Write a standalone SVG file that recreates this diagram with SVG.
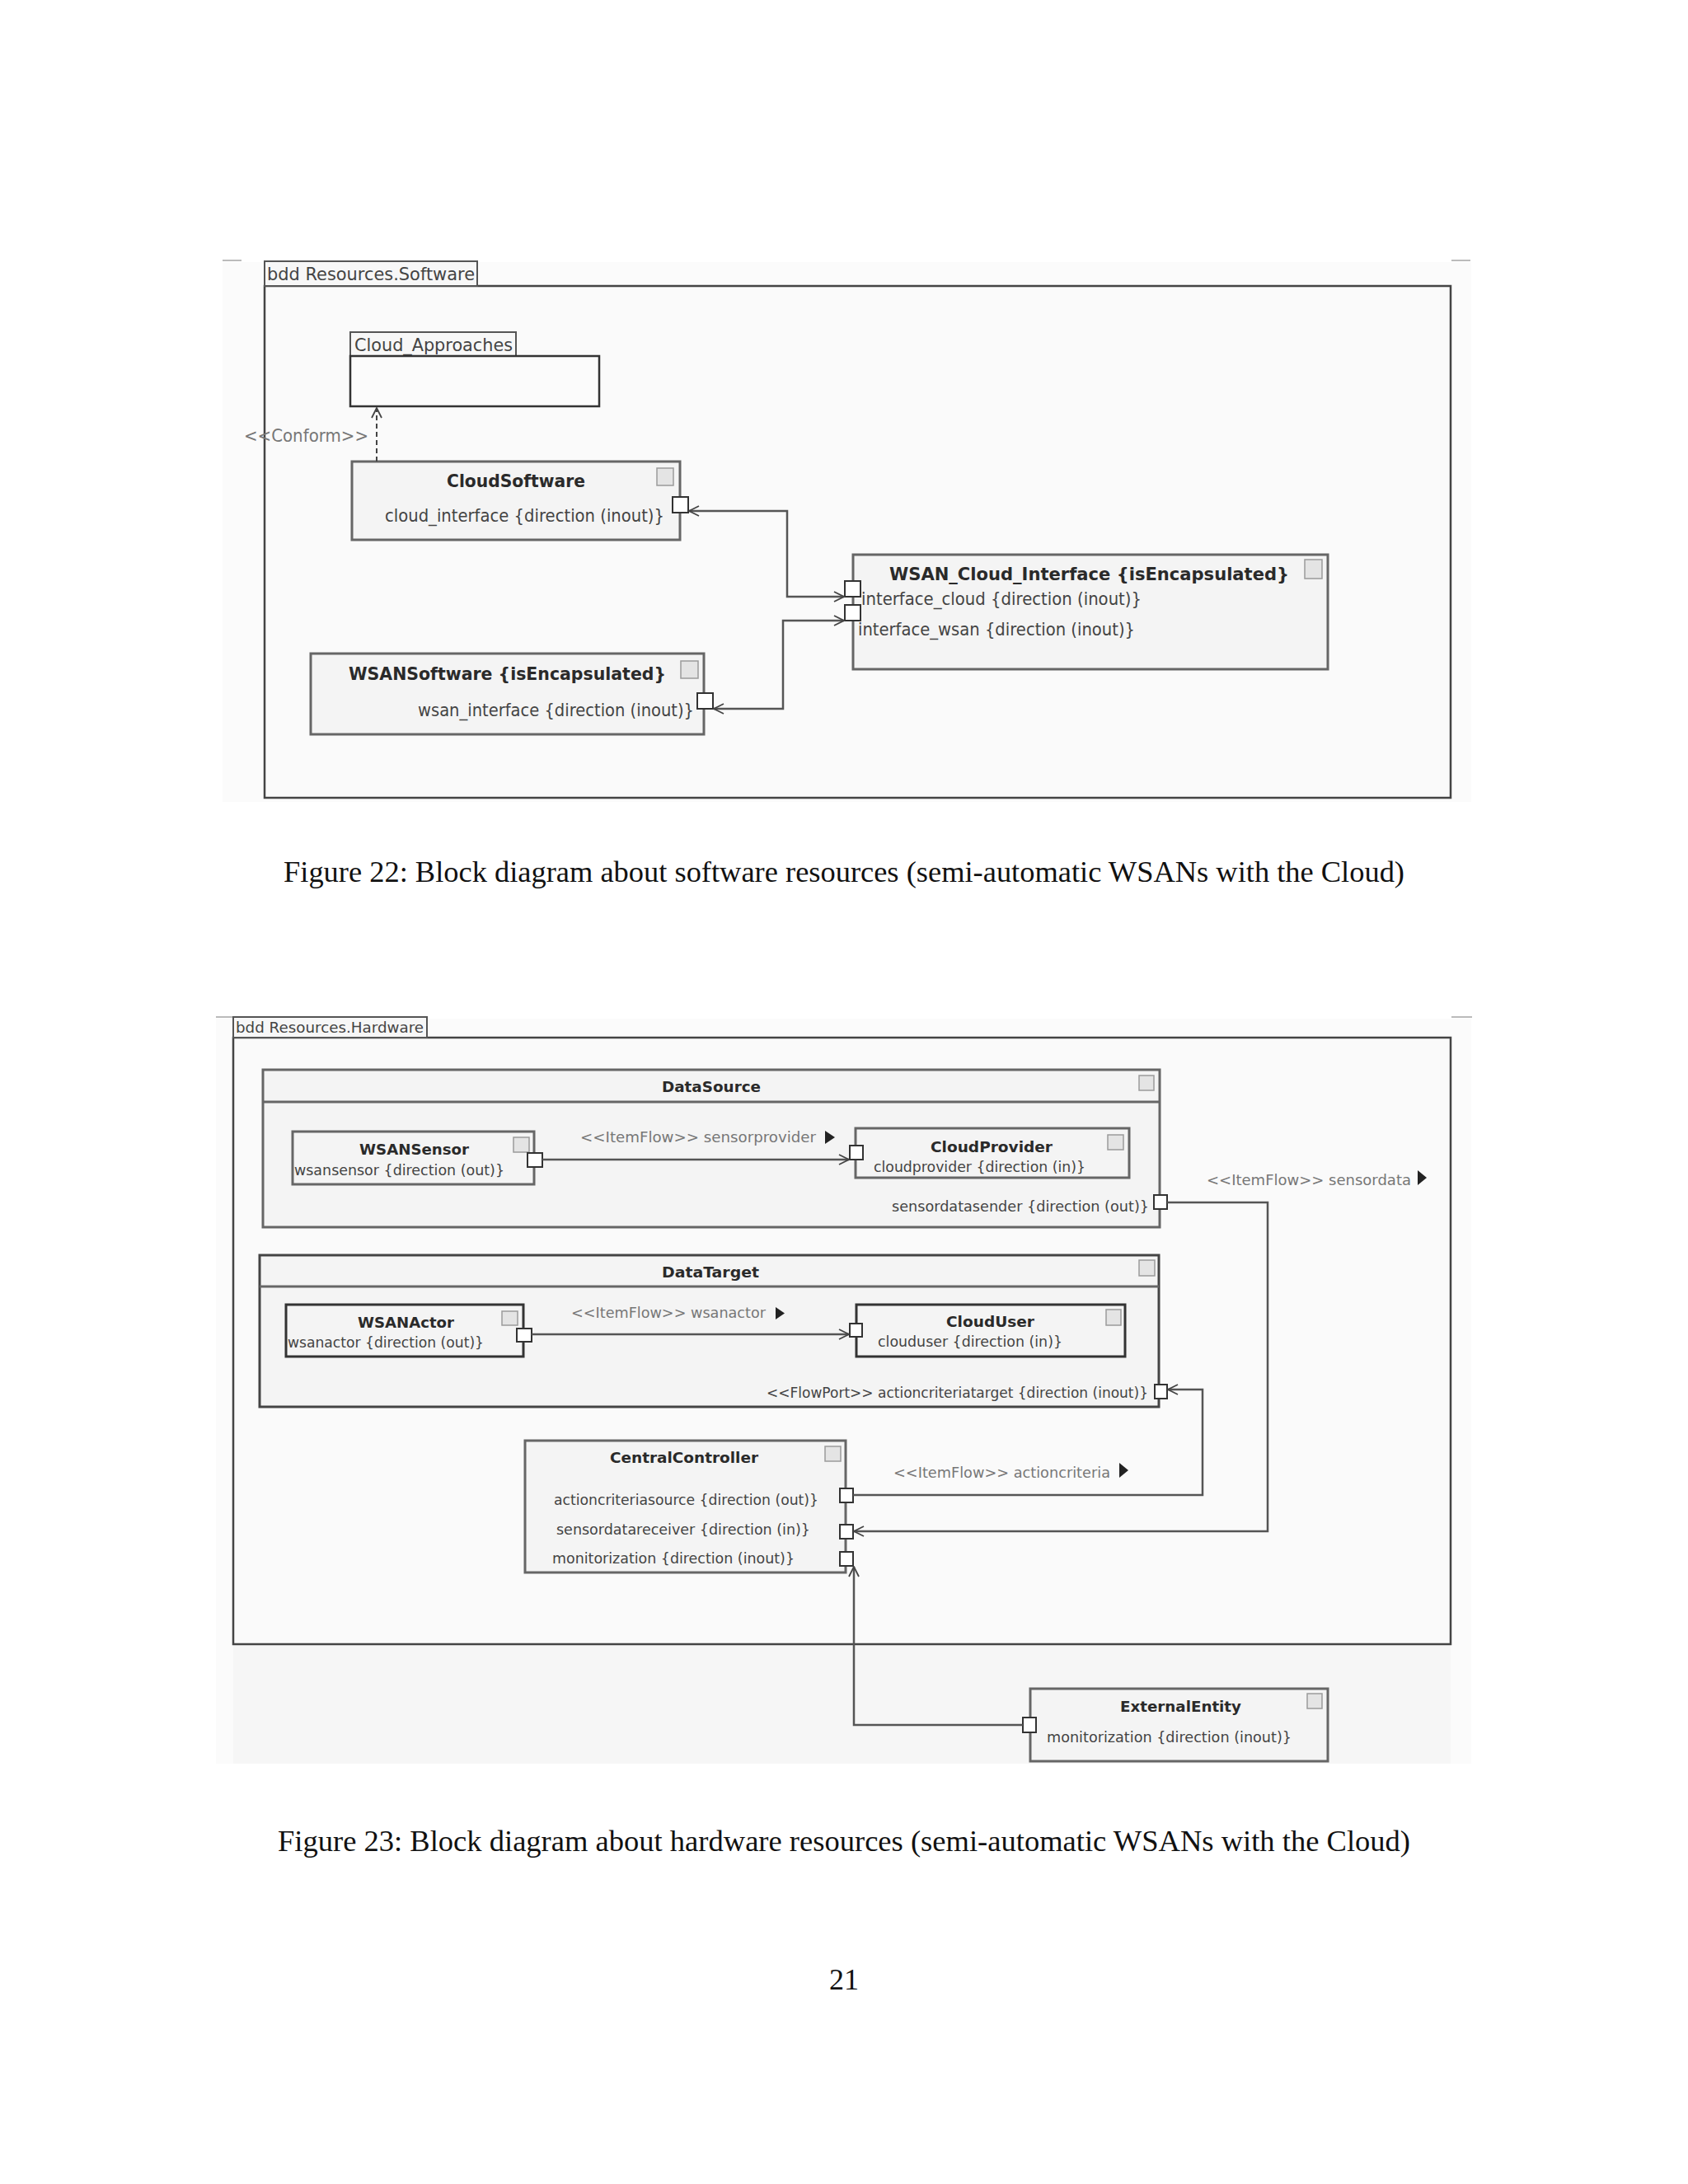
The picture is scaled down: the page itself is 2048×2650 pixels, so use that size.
<svg xmlns="http://www.w3.org/2000/svg" width="2048" height="2650" viewBox="0 0 2048 2650">
<style>
.bg{fill:#fbfbfb}
.frame{fill:#fafafa;stroke:#444;stroke-width:2.5}
.tab{fill:#f7f7f7;stroke:#555;stroke-width:2}
.box{fill:#f4f4f4;stroke:#666;stroke-width:3}
.hdr{stroke:#666;stroke-width:3}
.icon{fill:#e4e4e4;stroke:#9a9a9a;stroke-width:1.5}
.port{fill:#fff;stroke:#333;stroke-width:2}
.conn{fill:none;stroke:#555;stroke-width:2.5}
.dash{fill:none;stroke:#444;stroke-width:2;stroke-dasharray:6 4}
.tick{stroke:#bbb;stroke-width:2}
.t{font-family:"DejaVu Sans","Liberation Sans",sans-serif;fill:#444}
.t20{font-size:20.5px}
.t17{font-size:18px}
.b{font-weight:bold;fill:#2a2a2a}
.g{fill:#777}
.tri{fill:#222}
.cap{font-family:"Liberation Serif","DejaVu Serif",serif;font-size:36px;fill:#111}
</style>
<defs>
<marker id="open" viewBox="0 0 14 14" refX="13" refY="7" markerWidth="14" markerHeight="14" markerUnits="userSpaceOnUse" orient="auto-start-reverse">
<path d="M1,1 L13,7 L1,13" fill="none" stroke="#444" stroke-width="1.8"/>
</marker>
</defs>
<rect width="2048" height="2650" fill="#ffffff"/>

<!-- ===== Figure 22 ===== -->
<rect class="bg" x="270" y="318" width="1515" height="655"/>
<line class="tick" x1="270" y1="316" x2="293" y2="316"/>
<line class="tick" x1="1761" y1="316" x2="1784" y2="316"/>
<g id="frame-software">
<rect class="frame" x="321" y="347" width="1439" height="621"/>
<rect class="tab" x="321" y="317" width="258" height="30"/>
<text class="t t20" x="324" y="340" textLength="252" lengthAdjust="spacingAndGlyphs">bdd Resources.Software</text>
</g>

<g id="Cloud_Approaches">
<rect class="tab" x="425" y="403" width="201" height="29"/>
<text class="t t20" x="430" y="426" textLength="192" lengthAdjust="spacingAndGlyphs">Cloud_Approaches</text>
<rect x="425" y="432" width="302" height="61" fill="#fbfbfb" stroke="#333" stroke-width="2.5"/>
</g>

<g id="CloudSoftware">
<rect class="box" x="427" y="560" width="398" height="95"/>
<text class="t t20 b" x="626" y="591" text-anchor="middle" textLength="168" lengthAdjust="spacingAndGlyphs">CloudSoftware</text>
<rect class="icon" x="797" y="568" width="20" height="21"/>
<text class="t t20" x="467" y="633" textLength="339" lengthAdjust="spacingAndGlyphs">cloud_interface {direction (inout)}</text>
<rect class="port" x="816" y="603" width="19" height="19"/>
</g>

<g id="WSAN_Cloud_Interface">
<rect class="box" x="1035" y="673" width="576" height="139"/>
<text class="t t20 b" x="1079" y="704" textLength="485" lengthAdjust="spacingAndGlyphs">WSAN_Cloud_Interface {isEncapsulated}</text>
<rect class="icon" x="1583" y="679" width="21" height="23"/>
<text class="t t20" x="1045" y="734" textLength="340" lengthAdjust="spacingAndGlyphs">interface_cloud {direction (inout)}</text>
<text class="t t20" x="1041" y="771" textLength="336" lengthAdjust="spacingAndGlyphs">interface_wsan {direction (inout)}</text>
<rect class="port" x="1025" y="705" width="19" height="19"/>
<rect class="port" x="1025" y="734" width="19" height="19"/>
</g>

<g id="WSANSoftware">
<rect class="box" x="377" y="793" width="477" height="98"/>
<text class="t t20 b" x="423" y="825" textLength="385" lengthAdjust="spacingAndGlyphs">WSANSoftware {isEncapsulated}</text>
<rect class="icon" x="826" y="802" width="21" height="21"/>
<text class="t t20" x="507" y="869" textLength="335" lengthAdjust="spacingAndGlyphs">wsan_interface {direction (inout)}</text>
<rect class="port" x="846" y="841" width="19" height="19"/>
</g>

<g id="connectors-software">
<path class="dash" d="M457,560 V495" marker-end="url(#open)"/>
<text class="t t20 g" x="296" y="536" textLength="151" lengthAdjust="spacingAndGlyphs">&lt;&lt;Conform&gt;&gt;</text>
<path class="conn" d="M836,620 H955 V724 H1024" marker-start="url(#open)" marker-end="url(#open)"/>
<path class="conn" d="M866,860 H950 V753 H1024" marker-start="url(#open)" marker-end="url(#open)"/>
</g>

<text class="cap" x="344" y="1070" textLength="1360" lengthAdjust="spacingAndGlyphs">Figure 22: Block diagram about software resources (semi-automatic WSANs with the Cloud)</text>

<!-- ===== Figure 23 ===== -->
<rect class="bg" x="262" y="1236" width="1523" height="904" fill="#f8f8f8"/>
<rect x="283" y="1996" width="1477" height="144" fill="#f6f6f6"/>
<line class="tick" x1="262" y1="1234" x2="283" y2="1234"/>
<line class="tick" x1="1761" y1="1234" x2="1786" y2="1234"/>
<g id="frame-hardware">
<rect class="frame" x="283" y="1259" width="1477" height="736"/>
<rect class="tab" x="283" y="1234" width="235" height="25"/>
<text class="t t17" x="286" y="1253" textLength="228" lengthAdjust="spacingAndGlyphs">bdd Resources.Hardware</text>
</g>

<g id="DataSource">
<rect class="box" x="319" y="1298" width="1088" height="191"/>
<line class="hdr" x1="319" y1="1337" x2="1407" y2="1337"/>
<text class="t t17 b" x="803" y="1325" textLength="120" lengthAdjust="spacingAndGlyphs">DataSource</text>
<rect class="icon" x="1382" y="1305" width="18" height="18"/>
<text class="t t17" x="1082" y="1470" textLength="312" lengthAdjust="spacingAndGlyphs">sensordatasender {direction (out)}</text>
<rect class="port" x="1400" y="1450" width="16" height="17"/>
</g>

<g id="WSANSensor">
<rect class="box" x="355" y="1373" width="293" height="64"/>
<text class="t t17 b" x="436" y="1401" textLength="133" lengthAdjust="spacingAndGlyphs">WSANSensor</text>
<rect class="icon" x="623" y="1380" width="19" height="18"/>
<text class="t t17" x="357" y="1426" textLength="255" lengthAdjust="spacingAndGlyphs">wsansensor {direction (out)}</text>
<rect class="port" x="640" y="1399" width="18" height="17"/>
</g>

<g id="CloudProvider">
<rect class="box" x="1038" y="1369" width="332" height="60"/>
<text class="t t17 b" x="1129" y="1398" textLength="148" lengthAdjust="spacingAndGlyphs">CloudProvider</text>
<rect class="icon" x="1344" y="1377" width="19" height="18"/>
<text class="t t17" x="1060" y="1422" textLength="257" lengthAdjust="spacingAndGlyphs">cloudprovider {direction (in)}</text>
<rect class="port" x="1031" y="1390" width="16" height="17"/>
</g>

<g id="DataTarget">
<rect class="box" x="315" y="1523" width="1091" height="184" style="stroke:#444"/>
<line class="hdr" x1="315" y1="1561" x2="1406" y2="1561"/>
<text class="t t17 b" x="803" y="1550" textLength="118" lengthAdjust="spacingAndGlyphs">DataTarget</text>
<rect class="icon" x="1382" y="1529" width="19" height="19"/>
<text class="t t17" x="930" y="1696" textLength="463" lengthAdjust="spacingAndGlyphs">&lt;&lt;FlowPort&gt;&gt; actioncriteriatarget {direction (inout)}</text>
<rect class="port" x="1401" y="1680" width="15" height="17"/>
</g>

<g id="WSANActor">
<rect class="box" x="347" y="1583" width="288" height="63" style="stroke:#333"/>
<text class="t t17 b" x="434" y="1611" textLength="117" lengthAdjust="spacingAndGlyphs">WSANActor</text>
<rect class="icon" x="609" y="1591" width="19" height="17"/>
<text class="t t17" x="349" y="1635" textLength="238" lengthAdjust="spacingAndGlyphs">wsanactor {direction (out)}</text>
<rect class="port" x="627" y="1612" width="18" height="16"/>
</g>

<g id="CloudUser">
<rect class="box" x="1039" y="1583" width="326" height="63" style="stroke:#333"/>
<text class="t t17 b" x="1148" y="1610" textLength="107" lengthAdjust="spacingAndGlyphs">CloudUser</text>
<rect class="icon" x="1342" y="1589" width="18" height="19"/>
<text class="t t17" x="1065" y="1634" textLength="224" lengthAdjust="spacingAndGlyphs">clouduser {direction (in)}</text>
<rect class="port" x="1031" y="1606" width="15" height="16"/>
</g>

<g id="CentralController">
<rect class="box" x="637" y="1748" width="389" height="160"/>
<text class="t t17 b" x="740" y="1775" textLength="180" lengthAdjust="spacingAndGlyphs">CentralController</text>
<rect class="icon" x="1001" y="1755" width="19" height="18"/>
<text class="t t17" x="672" y="1826" textLength="321" lengthAdjust="spacingAndGlyphs">actioncriteriasource {direction (out)}</text>
<text class="t t17" x="675" y="1862" textLength="308" lengthAdjust="spacingAndGlyphs">sensordatareceiver {direction (in)}</text>
<text class="t t17" x="670" y="1897" textLength="294" lengthAdjust="spacingAndGlyphs">monitorization {direction (inout)}</text>
<rect class="port" x="1019" y="1806" width="16" height="17"/>
<rect class="port" x="1019" y="1850" width="16" height="17"/>
<rect class="port" x="1019" y="1883" width="16" height="17"/>
</g>

<g id="ExternalEntity">
<rect class="box" x="1250" y="2049" width="361" height="88"/>
<text class="t t17 b" x="1359" y="2077" textLength="147" lengthAdjust="spacingAndGlyphs">ExternalEntity</text>
<rect class="icon" x="1586" y="2055" width="18" height="18"/>
<text class="t t17" x="1270" y="2114" textLength="297" lengthAdjust="spacingAndGlyphs">monitorization {direction (inout)}</text>
<rect class="port" x="1241" y="2084" width="16" height="18"/>
</g>

<g id="connectors-hardware">
<path class="conn" d="M658,1407 H1030" marker-end="url(#open)"/>
<text class="t t17 g" x="704" y="1386" textLength="286" lengthAdjust="spacingAndGlyphs">&lt;&lt;ItemFlow&gt;&gt; sensorprovider</text>
<path class="tri" d="M1001,1372 L1013,1380 L1001,1388 Z"/>
<path class="conn" d="M645,1619 H1030" marker-end="url(#open)"/>
<text class="t t17 g" x="693" y="1599" textLength="236" lengthAdjust="spacingAndGlyphs">&lt;&lt;ItemFlow&gt;&gt; wsanactor</text>
<path class="tri" d="M941,1586 L952,1593.5 L941,1601 Z"/>
<path class="conn" d="M1416,1459 H1538 V1858 H1036" marker-end="url(#open)"/>
<text class="t t17 g" x="1464" y="1438" textLength="248" lengthAdjust="spacingAndGlyphs">&lt;&lt;ItemFlow&gt;&gt; sensordata</text>
<path class="tri" d="M1720,1420 L1731,1429 L1720,1438 Z"/>
<path class="conn" d="M1035,1814 H1459 V1686 H1417" marker-end="url(#open)"/>
<text class="t t17 g" x="1084" y="1793" textLength="263" lengthAdjust="spacingAndGlyphs">&lt;&lt;ItemFlow&gt;&gt; actioncriteria</text>
<path class="tri" d="M1358,1775 L1369,1784 L1358,1793 Z"/>
<path class="conn" d="M1241,2093 H1036 V1901" marker-end="url(#open)"/>
</g>

<text class="cap" x="337" y="2246" textLength="1374" lengthAdjust="spacingAndGlyphs">Figure 23: Block diagram about hardware resources (semi-automatic WSANs with the Cloud)</text>
<text class="cap" x="1024" y="2414" text-anchor="middle">21</text>
</svg>
